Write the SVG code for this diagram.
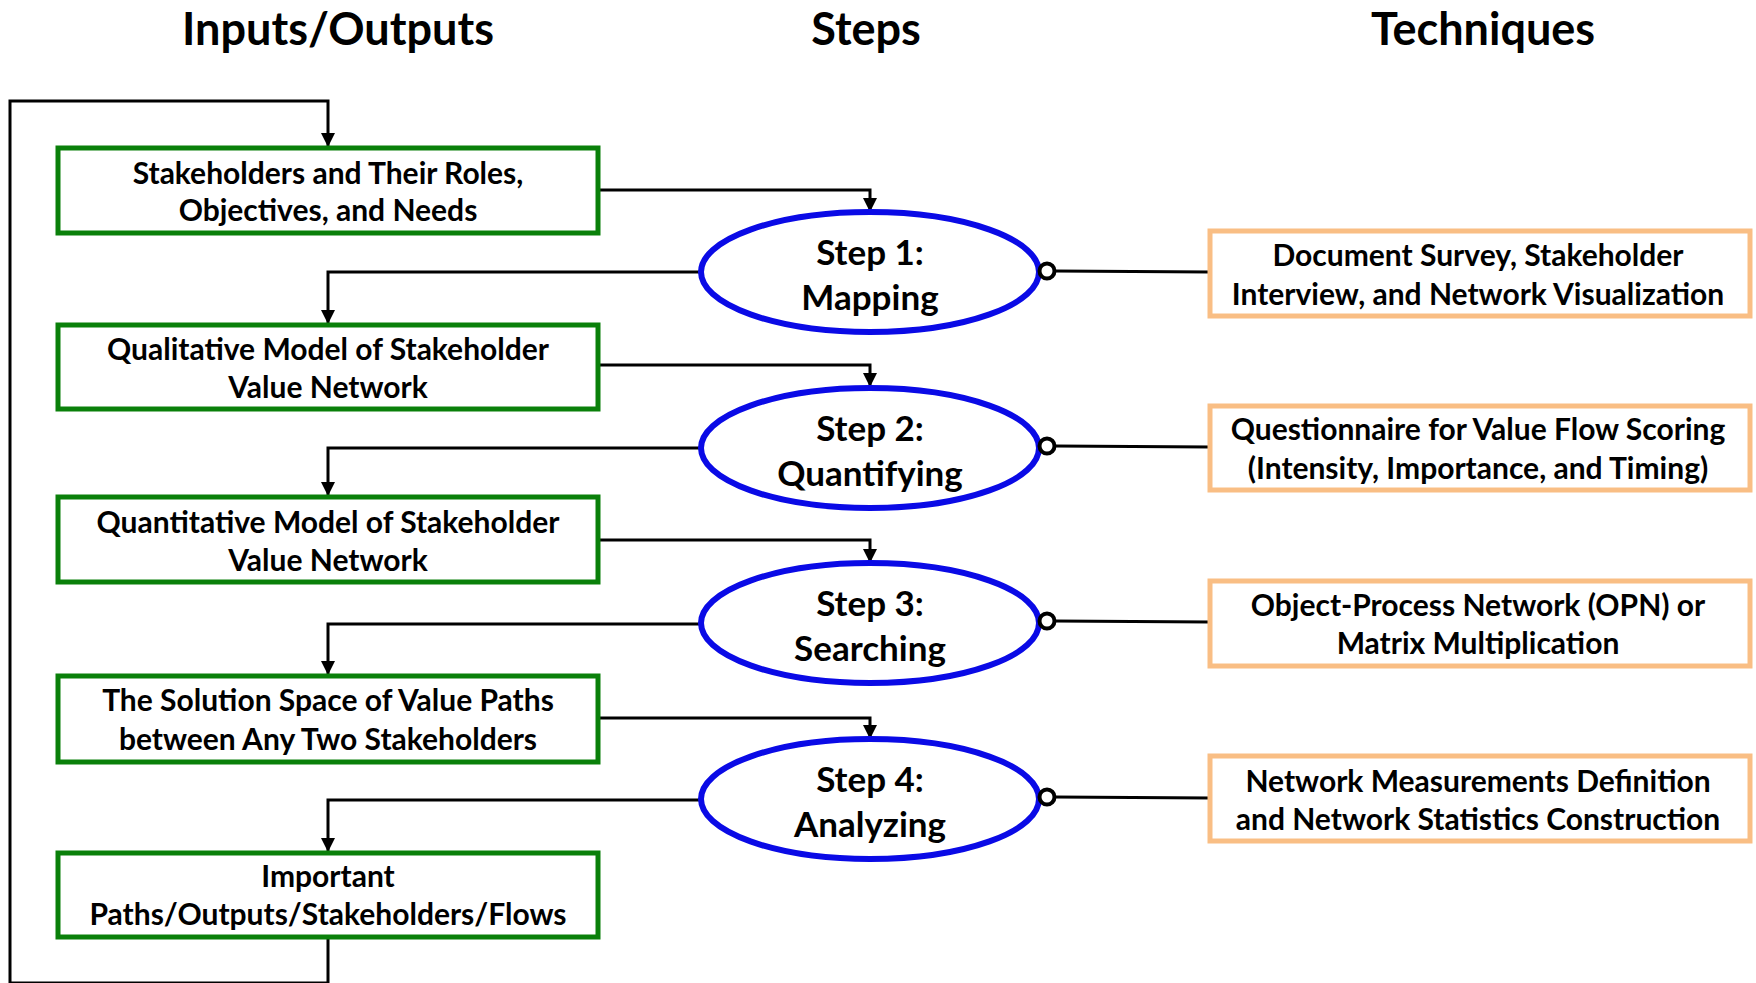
<svg xmlns="http://www.w3.org/2000/svg" width="1756" height="983" viewBox="0 0 1756 983">
<defs>
<marker id="arr" markerWidth="14" markerHeight="16" refX="13" refY="8" orient="auto" markerUnits="userSpaceOnUse">
<path d="M0,1 L14,8 L0,15 Z" fill="#000"/>
</marker>
<style>
text{font-family:Lato,"Open Sans","Liberation Sans",sans-serif;font-weight:bold;fill:#000;text-anchor:middle;dominant-baseline:central}
.title{font-size:45px}
.box{fill:#fff;stroke:#0a800a;stroke-width:5}
.tech{fill:#fff;stroke:#f9be84;stroke-width:5}
.step{fill:#fff;stroke:#0a0ae6;stroke-width:6}
.bt{font-size:30px}
.st{font-size:35px}
.tt{font-size:30px}
.con{fill:none;stroke:#000;stroke-width:3}
.dot{fill:#fff;stroke:#000;stroke-width:4}
</style>
</defs>
<rect width="1756" height="983" fill="#fff"/>
<g id="titles">
<text class="title" x="338" y="28">Inputs/Outputs</text>
<text class="title" x="866" y="28">Steps</text>
<text class="title" x="1483" y="28">Techniques</text>
</g>
<g id="connectors">
<path class="con" d="M328,937 V983 H10 V101 H328 V146" marker-end="url(#arr)"/>
<path class="con" d="M598,190 H870 V211" marker-end="url(#arr)"/>
<path class="con" d="M701,272 H328 V323" marker-end="url(#arr)"/>
<path class="con" d="M598,365 H870 V386" marker-end="url(#arr)"/>
<path class="con" d="M701,448 H328 V495" marker-end="url(#arr)"/>
<path class="con" d="M598,540 H870 V562" marker-end="url(#arr)"/>
<path class="con" d="M701,624 H328 V674" marker-end="url(#arr)"/>
<path class="con" d="M598,718 H870 V738" marker-end="url(#arr)"/>
<path class="con" d="M701,800 H328 V851" marker-end="url(#arr)"/>
<path class="con" d="M1055,271 L1210,272"/>
<path class="con" d="M1055,446 L1210,447"/>
<path class="con" d="M1055,621 L1210,622"/>
<path class="con" d="M1055,797 L1210,798"/>
</g>
<g id="io1"><rect class="box" x="58" y="148" width="540" height="85"/><text class="bt" x="328" y="172">Stakeholders and Their Roles,</text><text class="bt" x="328" y="209">Objectives, and Needs</text></g>
<g id="io2"><rect class="box" x="58" y="325" width="540" height="84"/><text class="bt" x="328" y="348">Qualitative Model of Stakeholder</text><text class="bt" x="328" y="386">Value Network</text></g>
<g id="io3"><rect class="box" x="58" y="497" width="540" height="85"/><text class="bt" x="328" y="521">Quantitative Model of Stakeholder</text><text class="bt" x="328" y="559">Value Network</text></g>
<g id="io4"><rect class="box" x="58" y="676" width="540" height="86"/><text class="bt" x="328" y="699">The Solution Space of Value Paths</text><text class="bt" x="328" y="738">between Any Two Stakeholders</text></g>
<g id="io5"><rect class="box" x="58" y="853" width="540" height="84"/><text class="bt" x="328" y="875">Important</text><text class="bt" x="328" y="913">Paths/Outputs/Stakeholders/Flows</text></g>
<g id="step1"><ellipse class="step" cx="870" cy="272" rx="169" ry="60"/><text class="st" x="870" y="251">Step 1:</text><text class="st" x="870" y="296">Mapping</text><circle class="dot" cx="1047" cy="271" r="7.5"/></g>
<g id="step2"><ellipse class="step" cx="870" cy="448" rx="169" ry="60"/><text class="st" x="870" y="427">Step 2:</text><text class="st" x="870" y="472">Quantifying</text><circle class="dot" cx="1047" cy="446" r="7.5"/></g>
<g id="step3"><ellipse class="step" cx="870" cy="623" rx="169" ry="60"/><text class="st" x="870" y="602">Step 3:</text><text class="st" x="870" y="647">Searching</text><circle class="dot" cx="1047" cy="621" r="7.5"/></g>
<g id="step4"><ellipse class="step" cx="870" cy="799" rx="169" ry="60"/><text class="st" x="870" y="778">Step 4:</text><text class="st" x="870" y="823">Analyzing</text><circle class="dot" cx="1047" cy="797" r="7.5"/></g>
<g id="tech1"><rect class="tech" x="1210" y="231" width="540" height="85"/><text class="tt" x="1478" y="254">Document Survey, Stakeholder</text><text class="tt" x="1478" y="293">Interview, and Network Visualization</text></g>
<g id="tech2"><rect class="tech" x="1210" y="406" width="540" height="84"/><text class="tt" x="1478" y="428">Questionnaire for Value Flow Scoring</text><text class="tt" x="1478" y="467">(Intensity, Importance, and Timing)</text></g>
<g id="tech3"><rect class="tech" x="1210" y="581" width="540" height="85"/><text class="tt" x="1478" y="604">Object-Process Network (OPN) or</text><text class="tt" x="1478" y="642">Matrix Multiplication</text></g>
<g id="tech4"><rect class="tech" x="1210" y="756" width="540" height="85"/><text class="tt" x="1478" y="780">Network Measurements Definition</text><text class="tt" x="1478" y="818">and Network Statistics Construction</text></g>
</svg>
